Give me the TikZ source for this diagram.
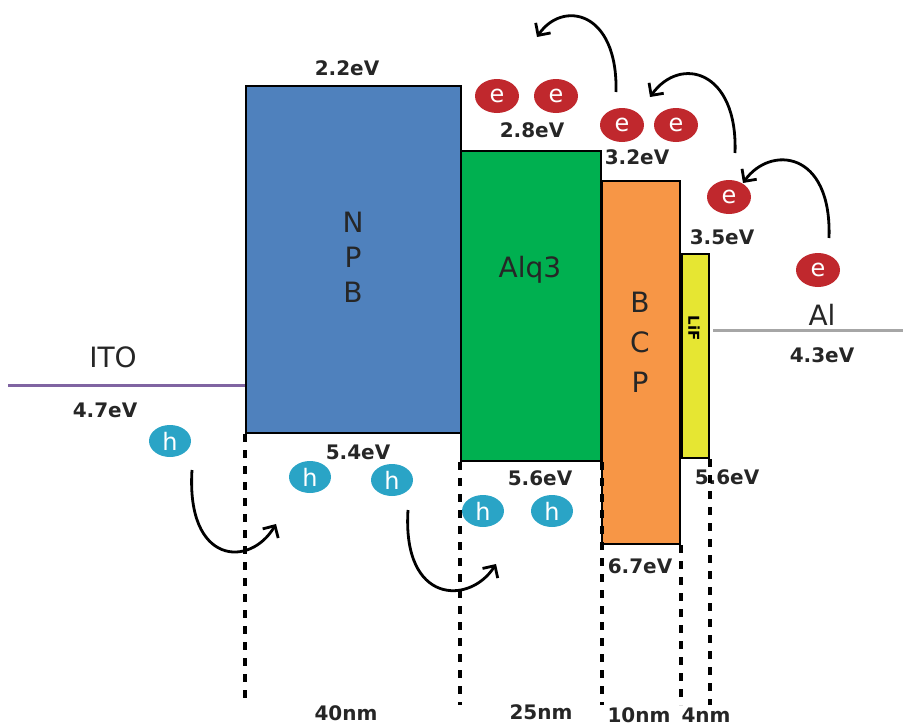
\documentclass[tikz,border=0pt]{standalone}
\usepackage{fontspec}
\setmainfont{DejaVu Sans}
\usetikzlibrary{arrows.meta,shapes.geometric}
\definecolor{npbblue}{HTML}{4F81BD}
\definecolor{alqgreen}{HTML}{00B050}
\definecolor{bcporange}{HTML}{F79646}
\definecolor{lifyellow}{HTML}{E6E632}
\definecolor{ered}{HTML}{C0282D}
\definecolor{hcyan}{HTML}{2AA4C6}
\definecolor{itopurple}{HTML}{8064A2}
\definecolor{algray}{HTML}{A6A6A6}
\begin{document}
\begin{tikzpicture}[x=1pt,y=-1pt,
  layer/.style={draw=black, line width=2pt, inner sep=0pt, anchor=north west},
  lvl/.style={font=\fontsize{20}{20}\selectfont\bfseries, text=black!85, inner sep=0pt},
  big/.style={font=\fontsize{28}{28}\selectfont, text=black!85, inner sep=0pt},
  elec/.style={ellipse, fill=ered, minimum width=44pt, minimum height=34pt, inner sep=0pt, text=white, font=\fontsize{24}{24}\selectfont},
  hole/.style={ellipse, fill=hcyan, minimum width=42pt, minimum height=32pt, inner sep=0pt, text=white, font=\fontsize{24}{24}\selectfont},
  hop/.style={line width=2.8pt, -{Straight Barb[length=9pt,width=18pt,line width=2.8pt]}},
  guide/.style={line width=3.5pt, dash pattern=on 8pt off 8pt},
]
\useasboundingbox (0,0) rectangle (903,728);
\coordinate (base) at (0,705);

% electrode lines
\coordinate (itoL) at (8,385);
\coordinate (itoR) at (245,385);
\draw[itopurple, line width=3pt] (itoL) -- (itoR);
\coordinate (alL) at (713,330);
\coordinate (alR) at (903,330);
\draw[algray, line width=3pt] (alL) -- (alR);

% layers
\node[layer, fill=npbblue, minimum width=215pt, minimum height=347pt] (npb) at (245,85) {};
\node[layer, fill=alqgreen, minimum width=140pt, minimum height=310pt] (alq) at (460,150) {};
\node[layer, fill=bcporange, minimum width=78pt, minimum height=363pt] (bcp) at (601,180) {};
\node[layer, fill=lifyellow, minimum width=27pt, minimum height=204pt] (lif) at (681,253) {};

% layer names
\node[big, align=center] (tnpb) at (353,257) {N\\[7pt]P\\[7pt]B};
\node[big] (talq) at (530,270) {Alq3};
\node[big, align=center] (tbcp) at (640,342) {B\\[12pt]C\\[12pt]P};
\node[font=\fontsize{15}{15}\selectfont\bfseries, rotate=-90, inner sep=0pt] (tlif) at (694,328) {LiF};
\node[big] (tito) at (113,357) {ITO};
\node[big] (tal) at (822,315) {Al};

% energy levels
\node[lvl] (l22) at (347,68) {2.2eV};
\node[lvl] (l54) at (358,452) {5.4eV};
\node[lvl] (l28) at (532,130) {2.8eV};
\node[lvl] (l56a) at (540,478) {5.6eV};
\node[lvl] (l32) at (637,157) {3.2eV};
\node[lvl] (l67) at (640,566) {6.7eV};
\node[lvl] (l35) at (722,237) {3.5eV};
\node[lvl] (l56b) at (727,477) {5.6eV};
\node[lvl] (l47) at (105,410) {4.7eV};
\node[lvl] (l43) at (822,355) {4.3eV};

% thickness guides
\draw[guide] (npb.south west) -- (npb.south west |- base);
\draw[guide] (alq.south west) -- (alq.south west |- base);
\draw[guide] (alq.south east) -- (alq.south east |- base);
\draw[guide] (bcp.south east) -- (bcp.south east |- base);
\draw[guide] (lif.south east) -- (lif.south east |- base);

\node[lvl] (d40) at (346,713) {40nm};
\node[lvl] (d25) at (541,712) {25nm};
\node[lvl] (d10) at (639,715) {10nm};
\node[lvl] (d4) at (706,715) {4nm};

% electrons
\node[elec] (e1) at (497,96) {e};
\node[elec] (e2) at (556,96) {e};
\node[elec] (e3) at (622,125) {e};
\node[elec] (e4) at (676,125) {e};
\node[elec] (e5) at (729,197) {e};
\node[elec] (e6) at (818,270) {e};

% holes
\node[hole] (h1) at (170,441) {h};
\node[hole] (h2) at (310,477) {h};
\node[hole] (h3) at (392,480) {h};
\node[hole] (h4) at (483,511) {h};
\node[hole] (h5) at (552,511) {h};

% hop arrows
\coordinate (a1s) at (616,92);
\coordinate (a1e) at (537,37);
\draw[hop] (a1s) .. controls (618,10) and (562,0) .. (a1e);
\coordinate (a2s) at (735,153);
\coordinate (a2e) at (650,97);
\draw[hop] (a2s) .. controls (738,70) and (680,55) .. (a2e);
\coordinate (a3s) at (829,238);
\coordinate (a3e) at (743,183);
\draw[hop] (a3s) .. controls (832,150) and (770,145) .. (a3e);
\coordinate (b1s) at (192,470);
\coordinate (b1e) at (276,524);
\draw[hop] (b1s) .. controls (186,565) and (250,568) .. (b1e);
\coordinate (b2s) at (408,510);
\coordinate (b2e) at (496,564);
\draw[hop] (b2s) .. controls (402,605) and (470,605) .. (b2e);
\end{tikzpicture}
\end{document}
